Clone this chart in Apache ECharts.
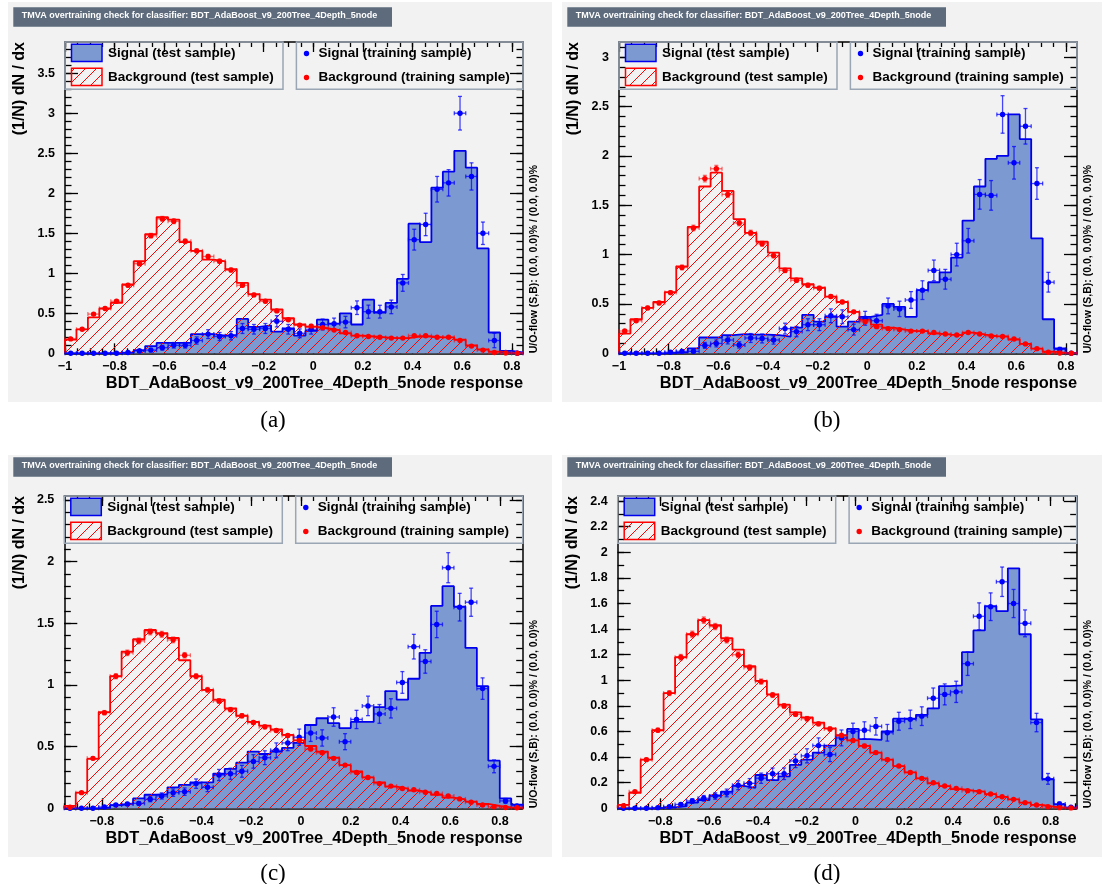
<!DOCTYPE html>
<html><head><meta charset="utf-8">
<script src="https://cdn.jsdelivr.net/npm/echarts@6/dist/echarts.min.js"></script>
<style>html,body{margin:0;padding:0;background:#fff;}#c{width:1102px;height:884px;}</style>
</head><body><div id="c"></div>
<script>
// ---------------- data (40 bins per panel) ----------------
const titleText = 'TMVA overtraining check for classifier: BDT_AdaBoost_v9_200Tree_4Depth_5node';
const xTitle = 'BDT_AdaBoost_v9_200Tree_4Depth_5node response';
const yTitle = '(1/N) dN / dx';
const uoText = 'U/O-flow (S,B): (0.0, 0.0)% / (0.0, 0.0)%';
const legendLabels = ['Signal (test sample)', 'Background (test sample)', 'Signal (training sample)', 'Background (training sample)'];
const captions = ['(a)', '(b)', '(c)', '(d)'];

const xRanges = [[-1.0, 0.845], [-1.0, 0.845], [-0.951, 0.891], [-0.975, 0.907]];
const yMaxes = [3.89, 3.154, 2.531, 2.44];
const yMajorSteps = [0.5, 0.5, 0.5, 0.2];

const aSigTest = [0,0,0,0.003,0.005,0.01,0.04,0.09,0.13,0.13,0.13,0.24,0.24,0.22,0.23,0.43,0.33,0.35,0.27,0.31,0.22,0.28,0.42,0.37,0.50,0.36,0.67,0.51,0.63,0.93,1.62,1.39,2.07,2.27,2.53,2.32,1.31,0.26,0.03,0.01];
const aSigTrain = [0,0,0,0,0,0.01,0.03,0.04,0.07,0.10,0.10,0.16,0.24,0.21,0.22,0.31,0.30,0.31,0.40,0.30,0.25,0.30,0.36,0.37,0.39,0.57,0.52,0.52,0.58,0.88,1.42,1.61,2.05,2.13,3.00,2.21,1.50,0.16,0.01,0];
const aSigTrainErr = [0,0,0,0,0,0.01,0.02,0.022,0.03,0.035,0.035,0.045,0.055,0.05,0.052,0.062,0.06,0.062,0.07,0.06,0.055,0.06,0.068,0.07,0.072,0.085,0.082,0.08,0.085,0.105,0.13,0.14,0.16,0.165,0.21,0.17,0.14,0.09,0.01,0];
const aBkgTest = [0.17,0.30,0.45,0.56,0.63,0.86,1.15,1.49,1.70,1.67,1.39,1.28,1.17,1.15,1.05,0.88,0.74,0.67,0.55,0.44,0.36,0.33,0.31,0.29,0.25,0.22,0.21,0.20,0.19,0.19,0.21,0.21,0.20,0.20,0.17,0.10,0.05,0.02,0.005,0.003];
const aBkgTrain = [0.18,0.30,0.49,0.56,0.65,0.85,1.12,1.47,1.68,1.65,1.40,1.28,1.21,1.15,1.04,0.85,0.73,0.65,0.53,0.42,0.35,0.34,0.32,0.29,0.26,0.22,0.21,0.20,0.19,0.19,0.22,0.22,0.20,0.20,0.16,0.09,0.04,0.01,0.005,0.002];
const aBkgTrainErr = [0.01,0.013,0.016,0.017,0.019,0.021,0.024,0.028,0.03,0.03,0.027,0.026,0.025,0.025,0.023,0.021,0.02,0.019,0.017,0.015,0.014,0.013,0.013,0.012,0.012,0.011,0.011,0.01,0.01,0.01,0.011,0.011,0.01,0.01,0.009,0.007,0.005,0.003,0.002,0.001];

const bSigTest = [0,0,0,0,0.005,0.01,0.05,0.16,0.16,0.185,0.195,0.19,0.19,0.185,0.17,0.26,0.39,0.32,0.37,0.27,0.32,0.37,0.39,0.50,0.47,0.37,0.64,0.72,0.82,0.97,1.345,1.69,1.97,2.0,2.42,2.17,1.165,0.345,0.05,0.005];
const bSigTrain = [0,0,0,0,0.01,0.02,0.02,0.08,0.10,0.135,0.085,0.155,0.15,0.135,0.25,0.22,0.29,0.29,0.38,0.37,0.24,0.355,0.33,0.48,0.45,0.54,0.64,0.84,0.75,1.0,1.14,1.61,1.60,2.42,1.93,2.30,1.72,0.72,0.04,0];
const bSigTrainErr = [0,0,0,0,0.008,0.015,0.015,0.03,0.035,0.04,0.032,0.045,0.045,0.042,0.055,0.052,0.06,0.06,0.07,0.07,0.055,0.07,0.065,0.08,0.078,0.085,0.095,0.105,0.1,0.115,0.125,0.15,0.15,0.19,0.165,0.18,0.16,0.1,0.02,0];
const bBkgTest = [0.20,0.345,0.46,0.52,0.62,0.88,1.28,1.69,1.83,1.645,1.36,1.22,1.13,1.02,0.86,0.76,0.70,0.665,0.575,0.52,0.42,0.34,0.29,0.26,0.24,0.225,0.225,0.20,0.19,0.185,0.21,0.19,0.175,0.17,0.14,0.095,0.047,0.017,0.004,0.001];
const bBkgTrain = [0.226,0.33,0.46,0.51,0.615,0.87,1.27,1.77,1.87,1.61,1.32,1.22,1.11,0.99,0.84,0.74,0.69,0.66,0.575,0.52,0.42,0.32,0.27,0.25,0.24,0.225,0.225,0.21,0.195,0.185,0.21,0.195,0.175,0.17,0.145,0.095,0.047,0.01,0.003,0.001];
const bBkgTrainErr = [0.012,0.015,0.017,0.018,0.02,0.024,0.028,0.033,0.034,0.031,0.028,0.027,0.025,0.024,0.022,0.021,0.02,0.019,0.018,0.017,0.015,0.013,0.012,0.012,0.011,0.011,0.011,0.01,0.01,0.01,0.011,0.01,0.01,0.009,0.009,0.007,0.005,0.003,0.002,0.001];

const cSigTest = [0,0,0,0.005,0.025,0.04,0.08,0.11,0.115,0.17,0.19,0.21,0.21,0.28,0.32,0.37,0.46,0.44,0.46,0.49,0.53,0.675,0.73,0.69,0.65,0.70,0.70,0.82,0.95,0.88,1.05,1.26,1.64,1.80,1.635,1.30,0.99,0.386,0.08,0.03];
const cSigTrain = [0,0,0,0.01,0.027,0.035,0.04,0.073,0.10,0.127,0.135,0.20,0.17,0.27,0.28,0.30,0.38,0.41,0.47,0.53,0.576,0.61,0.57,0.74,0.54,0.72,0.83,0.765,0.81,1.02,1.31,1.19,1.49,1.95,1.63,1.67,0.97,0.34,0.06,0.02];
const cSigTrainErr = [0,0,0,0.005,0.01,0.012,0.014,0.02,0.025,0.03,0.03,0.038,0.035,0.045,0.045,0.048,0.055,0.056,0.06,0.063,0.066,0.068,0.066,0.075,0.065,0.074,0.079,0.076,0.078,0.088,0.1,0.095,0.107,0.122,0.112,0.114,0.087,0.052,0.02,0.01];
const cBkgTest = [0.02,0.127,0.40,0.78,1.07,1.27,1.37,1.445,1.42,1.38,1.20,1.07,0.96,0.88,0.81,0.75,0.70,0.67,0.64,0.595,0.55,0.505,0.46,0.41,0.35,0.30,0.25,0.21,0.175,0.16,0.143,0.127,0.108,0.086,0.073,0.054,0.035,0.019,0.008,0.005];
const cBkgTrain = [0.008,0.127,0.405,0.775,1.07,1.26,1.357,1.43,1.41,1.365,1.24,1.07,0.96,0.87,0.80,0.75,0.695,0.66,0.63,0.59,0.55,0.48,0.45,0.405,0.35,0.29,0.25,0.20,0.18,0.16,0.15,0.13,0.12,0.10,0.076,0.049,0.027,0.012,0.006,0.004];
const cBkgTrainErr = [0.002,0.007,0.012,0.017,0.02,0.022,0.023,0.024,0.024,0.023,0.022,0.02,0.019,0.018,0.017,0.017,0.016,0.016,0.015,0.015,0.014,0.013,0.013,0.012,0.011,0.01,0.01,0.009,0.008,0.008,0.008,0.007,0.007,0.006,0.005,0.004,0.003,0.002,0.002,0.001];

const dSigTest = [0,0,0,0.003,0.008,0.018,0.044,0.065,0.10,0.13,0.175,0.16,0.26,0.22,0.25,0.34,0.38,0.435,0.49,0.57,0.62,0.54,0.535,0.60,0.70,0.70,0.73,0.78,0.955,0.96,1.22,1.39,1.58,1.54,1.875,1.36,0.695,0.227,0.03,0.005];
const dSigTrain = [0,0,0,0.005,0.013,0.03,0.057,0.078,0.096,0.12,0.18,0.195,0.235,0.27,0.27,0.37,0.41,0.49,0.42,0.55,0.60,0.61,0.64,0.59,0.68,0.695,0.72,0.86,0.89,0.91,1.13,1.50,1.575,1.77,1.60,1.445,0.67,0.23,0.034,0.008];
const dSigTrainErr = [0,0,0,0.005,0.008,0.012,0.018,0.022,0.025,0.03,0.035,0.037,0.04,0.045,0.045,0.052,0.055,0.06,0.055,0.062,0.065,0.066,0.068,0.065,0.07,0.072,0.073,0.08,0.082,0.083,0.092,0.105,0.108,0.115,0.11,0.105,0.072,0.042,0.015,0.007];
const dBkgTest = [0.026,0.12,0.38,0.61,0.90,1.18,1.36,1.47,1.43,1.33,1.24,1.11,0.995,0.89,0.81,0.75,0.71,0.67,0.625,0.57,0.53,0.487,0.435,0.38,0.33,0.28,0.234,0.195,0.174,0.15,0.138,0.13,0.11,0.09,0.07,0.044,0.026,0.013,0.005,0.003];
const dBkgTrain = [0.02,0.13,0.38,0.61,0.90,1.18,1.36,1.47,1.42,1.315,1.20,1.10,0.99,0.885,0.80,0.735,0.70,0.66,0.62,0.57,0.53,0.487,0.435,0.38,0.33,0.28,0.234,0.20,0.174,0.156,0.138,0.13,0.112,0.09,0.07,0.044,0.026,0.012,0.005,0.003];
const dBkgTrainErr = [0.003,0.007,0.012,0.016,0.019,0.022,0.024,0.025,0.024,0.023,0.022,0.021,0.02,0.019,0.018,0.017,0.017,0.016,0.016,0.015,0.014,0.014,0.013,0.012,0.011,0.011,0.01,0.009,0.008,0.008,0.008,0.007,0.007,0.006,0.005,0.004,0.003,0.002,0.002,0.001];

const panelData = [
  {sigTest: aSigTest, sigTrain: aSigTrain, sigErr: aSigTrainErr, bkgTest: aBkgTest, bkgTrain: aBkgTrain, bkgErr: aBkgTrainErr},
  {sigTest: bSigTest, sigTrain: bSigTrain, sigErr: bSigTrainErr, bkgTest: bBkgTest, bkgTrain: bBkgTrain, bkgErr: bBkgTrainErr},
  {sigTest: cSigTest, sigTrain: cSigTrain, sigErr: cSigTrainErr, bkgTest: cBkgTest, bkgTrain: cBkgTrain, bkgErr: cBkgTrainErr},
  {sigTest: dSigTest, sigTrain: dSigTrain, sigErr: dSigTrainErr, bkgTest: dBkgTest, bkgTrain: dBkgTrain, bkgErr: dBkgTrainErr}
];

// ---------------- layout / style ----------------
const layout = [
  {L: 65,    T: 42,  W: 458,   H: 311.3, px: 8,   py: 2,   pw: 544, ph: 400, tby: 7.3,   capY: 421},
  {L: 619,   T: 42,  W: 458,   H: 311.3, px: 562, py: 2,   pw: 540, ph: 400, tby: 7.3,   capY: 421},
  {L: 64.3,  T: 496, W: 458.4, H: 312.3, px: 8,   py: 455, pw: 544, ph: 402, tby: 457.3, capY: 874},
  {L: 617.7, T: 496, W: 459,   H: 312.3, px: 562, py: 455, pw: 540, ph: 402, tby: 457.3, capY: 874}
];
const FONT = '"Liberation Sans", Arial, Helvetica, sans-serif';
const SIG_FILL = '#7d99d1', SIG_LINE = '#0000ee', BKG_LINE = '#ff0000';

function makeHatch() {
  const s = 11, cv = document.createElement('canvas');
  cv.width = s; cv.height = s;
  const ctx = cv.getContext('2d');
  ctx.strokeStyle = '#ff0000'; ctx.lineWidth = 1;
  ctx.beginPath();
  ctx.moveTo(0, s); ctx.lineTo(s, 0);
  ctx.moveTo(-1, 1); ctx.lineTo(1, -1);
  ctx.moveTo(s - 1, s + 1); ctx.lineTo(s + 1, s - 1);
  ctx.stroke();
  return cv;
}
const hatch = {image: makeHatch(), repeat: 'repeat'};

function tickVals(min, max, step) {
  const out = [];
  const k0 = Math.ceil(min / step - 1e-6), k1 = Math.floor(max / step + 1e-6);
  for (let k = k0; k <= k1; k++) out.push(+(k * step).toFixed(4));
  return out;
}
function fmt(v) {
  const r = Math.round(v * 100) / 100;
  return (r < 0 ? '\u2212' : '') + String(Math.abs(r));
}
function histData(xr, vals) {
  const w = (xr[1] - xr[0]) / vals.length;
  const d = [[xr[0], 0]];
  vals.forEach((v, k) => d.push([xr[0] + k * w, v]));
  d.push([xr[1], vals[vals.length - 1]]);
  d.push([xr[1], 0]);
  return d;
}
function pointData(xr, vals, errs) {
  const w = (xr[1] - xr[0]) / vals.length;
  return vals.map((v, k) => [xr[0] + (k + 0.5) * w, v, errs[k], w / 2]);
}
function errRender(dot, bar) {
  return function (params, api) {
    const x = api.value(0), y = api.value(1), e = api.value(2), hw = api.value(3);
    const c = api.coord([x, y]);
    const l = api.coord([x - hw, y]);
    const r = api.coord([x + hw, y]);
    const cap = 2;
    const ls = {stroke: bar, lineWidth: 1.3};
    const ch = [
      {type: 'line', shape: {x1: l[0], y1: c[1], x2: r[0], y2: c[1]}, style: ls},
      {type: 'line', shape: {x1: l[0], y1: c[1] - cap, x2: l[0], y2: c[1] + cap}, style: ls},
      {type: 'line', shape: {x1: r[0], y1: c[1] - cap, x2: r[0], y2: c[1] + cap}, style: ls}
    ];
    if (e > 0) {
      const t = api.coord([x, y + e]);
      const b = api.coord([x, Math.max(0, y - e)]);
      ch.push({type: 'line', shape: {x1: c[0], y1: t[1], x2: c[0], y2: b[1]}, style: ls});
      ch.push({type: 'line', shape: {x1: c[0] - cap, y1: t[1], x2: c[0] + cap, y2: t[1]}, style: ls});
      if (y - e > 0) ch.push({type: 'line', shape: {x1: c[0] - cap, y1: b[1], x2: c[0] + cap, y2: b[1]}, style: ls});
    }
    ch.push({type: 'circle', shape: {cx: c[0], cy: c[1], r: 2.7}, style: {fill: dot}});
    return {type: 'group', children: ch};
  };
}

const grids = [], xAxes = [], yAxes = [], series = [], graphics = [];
const lineBlack = {color: '#000', width: 1.5};
const tickStyle = {color: '#000', width: 1.3};
const noLine = {show: false, onZero: false};

layout.forEach((g, gi) => {
  const xr = xRanges[gi], ymax = yMaxes[gi];
  grids.push({left: g.L, top: g.T, width: g.W, height: g.H, containLabel: false, outerBoundsMode: 'none', show: false});
  const xMaj = tickVals(xr[0], xr[1], 0.2), xMin = tickVals(xr[0], xr[1], 0.05);
  const yMaj = tickVals(0, ymax, yMajorSteps[gi]), yMin = tickVals(0, ymax, 0.1);
  const baseX = {gridIndex: gi, type: 'value', min: xr[0], max: xr[1], splitLine: {show: false}};
  const baseY = {gridIndex: gi, type: 'value', min: 0, max: ymax, splitLine: {show: false}};
  xAxes.push(Object.assign({}, baseX, {position: 'bottom',
    axisLine: {show: true, onZero: false, lineStyle: lineBlack},
    axisTick: {show: true, inside: true, length: 10, customValues: xMaj, lineStyle: tickStyle},
    axisLabel: {show: true, customValues: xMaj, formatter: fmt, margin: 7, color: '#000', fontWeight: 'bold', fontSize: 12.5, fontFamily: FONT}}));
  xAxes.push(Object.assign({}, baseX, {position: 'bottom',
    axisLine: noLine, axisLabel: {show: false},
    axisTick: {show: true, inside: true, length: 5, customValues: xMin, lineStyle: tickStyle}}));
  xAxes.push(Object.assign({}, baseX, {position: 'top',
    axisLine: {show: true, onZero: false, lineStyle: lineBlack}, axisLabel: {show: false},
    axisTick: {show: true, inside: true, length: 10, customValues: xMaj, lineStyle: tickStyle}}));
  xAxes.push(Object.assign({}, baseX, {position: 'top',
    axisLine: noLine, axisLabel: {show: false},
    axisTick: {show: true, inside: true, length: 5, customValues: xMin, lineStyle: tickStyle}}));
  yAxes.push(Object.assign({}, baseY, {position: 'left',
    axisLine: {show: true, onZero: false, lineStyle: lineBlack},
    axisTick: {show: true, inside: true, length: 13, customValues: yMaj, lineStyle: tickStyle},
    axisLabel: {show: true, customValues: yMaj, formatter: fmt, margin: 10, color: '#000', fontWeight: 'bold', fontSize: 12.5, fontFamily: FONT}}));
  yAxes.push(Object.assign({}, baseY, {position: 'left',
    axisLine: noLine, axisLabel: {show: false},
    axisTick: {show: true, inside: true, length: 6.5, customValues: yMin, lineStyle: tickStyle}}));
  yAxes.push(Object.assign({}, baseY, {position: 'right',
    axisLine: {show: true, onZero: false, lineStyle: lineBlack}, axisLabel: {show: false},
    axisTick: {show: true, inside: true, length: 13, customValues: yMaj, lineStyle: tickStyle}}));
  yAxes.push(Object.assign({}, baseY, {position: 'right',
    axisLine: noLine, axisLabel: {show: false},
    axisTick: {show: true, inside: true, length: 6.5, customValues: yMin, lineStyle: tickStyle}}));

  const pd = panelData[gi];
  const xi = gi * 4, yi = gi * 4;
  series.push({type: 'line', xAxisIndex: xi, yAxisIndex: yi, step: 'end', symbol: 'none', silent: true,
    data: histData(xr, pd.sigTest), lineStyle: {color: SIG_LINE, width: 1.8},
    areaStyle: {color: SIG_FILL, opacity: 1}, z: 2});
  series.push({type: 'line', xAxisIndex: xi, yAxisIndex: yi, step: 'end', symbol: 'none', silent: true,
    data: histData(xr, pd.bkgTest), lineStyle: {color: BKG_LINE, width: 1.8},
    areaStyle: {color: hatch, opacity: 1}, z: 3});
  series.push({type: 'custom', xAxisIndex: xi, yAxisIndex: yi, clip: false, silent: true, z: 4,
    renderItem: errRender('#0000ff', 'rgba(0,0,255,0.72)'), data: pointData(xr, pd.sigTrain, pd.sigErr)});
  series.push({type: 'custom', xAxisIndex: xi, yAxisIndex: yi, clip: false, silent: true, z: 5,
    renderItem: errRender('#ff0000', 'rgba(255,0,0,0.55)'), data: pointData(xr, pd.bkgTrain, pd.bkgErr)});

  // panel background
  graphics.push({type: 'rect', z: -100, shape: {x: g.px, y: g.py, width: g.pw, height: g.ph}, style: {fill: '#f2f2f2'}});
  // title box
  const tbx = g.px + 5.3;
  graphics.push({type: 'rect', z: 50, shape: {x: tbx, y: g.tby, width: 378.7, height: 19.4}, style: {fill: '#5d6b7d'}});
  graphics.push({type: 'text', z: 51, x: tbx + 8.5, y: g.tby + 7.8,
    style: {text: titleText, fill: '#fff', font: 'bold 9px ' + FONT, align: 'left', verticalAlign: 'middle'}});
  // legends
  graphics.push({type: 'rect', z: 40, shape: {x: g.L, y: g.T, width: 218, height: 47.3},
    style: {fill: 'none', stroke: '#9aa6b4', lineWidth: 1.5}});
  graphics.push({type: 'rect', z: 40, shape: {x: g.L + 231.4, y: g.T, width: g.W - 231.4, height: 47.3},
    style: {fill: 'none', stroke: '#9aa6b4', lineWidth: 1.5}});
  graphics.push({type: 'rect', z: 41, shape: {x: g.L + 6.5, y: g.T + 2.2, width: 30.5, height: 17.3},
    style: {fill: SIG_FILL, stroke: SIG_LINE, lineWidth: 1.5}});
  graphics.push({type: 'rect', z: 41, shape: {x: g.L + 6.5, y: g.T + 26.2, width: 30.5, height: 17.3},
    style: {fill: hatch, stroke: BKG_LINE, lineWidth: 1.5}});
  graphics.push({type: 'circle', z: 41, shape: {cx: g.L + 241.5, cy: g.T + 11.5, r: 2.7}, style: {fill: '#0000ff'}});
  graphics.push({type: 'circle', z: 41, shape: {cx: g.L + 241.5, cy: g.T + 35.5, r: 2.7}, style: {fill: '#ff0000'}});
  const legFont = 'bold 13.5px ' + FONT;
  [[g.L + 43, g.T + 11.5, 0], [g.L + 43, g.T + 35.5, 1], [g.L + 253.5, g.T + 11.5, 2], [g.L + 253.5, g.T + 35.5, 3]].forEach(p => {
    graphics.push({type: 'text', z: 42, x: p[0], y: p[1],
      style: {text: legendLabels[p[2]], fill: '#000', font: legFont, align: 'left', verticalAlign: 'middle'}});
  });
  // axis titles
  graphics.push({type: 'text', z: 42, x: g.L + g.W, y: g.T + g.H + 30,
    style: {text: xTitle, fill: '#000', font: 'bold 16.4px ' + FONT, align: 'right', verticalAlign: 'middle'}});
  graphics.push({type: 'text', z: 42, x: g.L - 45, y: g.T, rotation: Math.PI / 2,
    style: {text: yTitle, fill: '#000', font: 'bold 16px ' + FONT, align: 'right', verticalAlign: 'middle'}});
  graphics.push({type: 'text', z: 42, x: g.L + g.W + 11.2, y: g.T + g.H, rotation: Math.PI / 2,
    style: {text: uoText, fill: '#000', font: 'bold 10.5px ' + FONT, align: 'left', verticalAlign: 'middle'}});
  // caption
  graphics.push({type: 'text', z: 42, x: g.px + 265, y: g.capY,
    style: {text: captions[gi], fill: '#000', font: '23px "Liberation Serif", "DejaVu Serif", serif', align: 'center', verticalAlign: 'middle'}});
});

const chart = echarts.init(document.getElementById('c'), null, {renderer: 'canvas', width: 1102, height: 884});
chart.setOption({
  animation: false,
  backgroundColor: '#ffffff',
  grid: grids,
  xAxis: xAxes,
  yAxis: yAxes,
  series: series,
  graphic: {elements: graphics}
});
</script>
</body></html>
